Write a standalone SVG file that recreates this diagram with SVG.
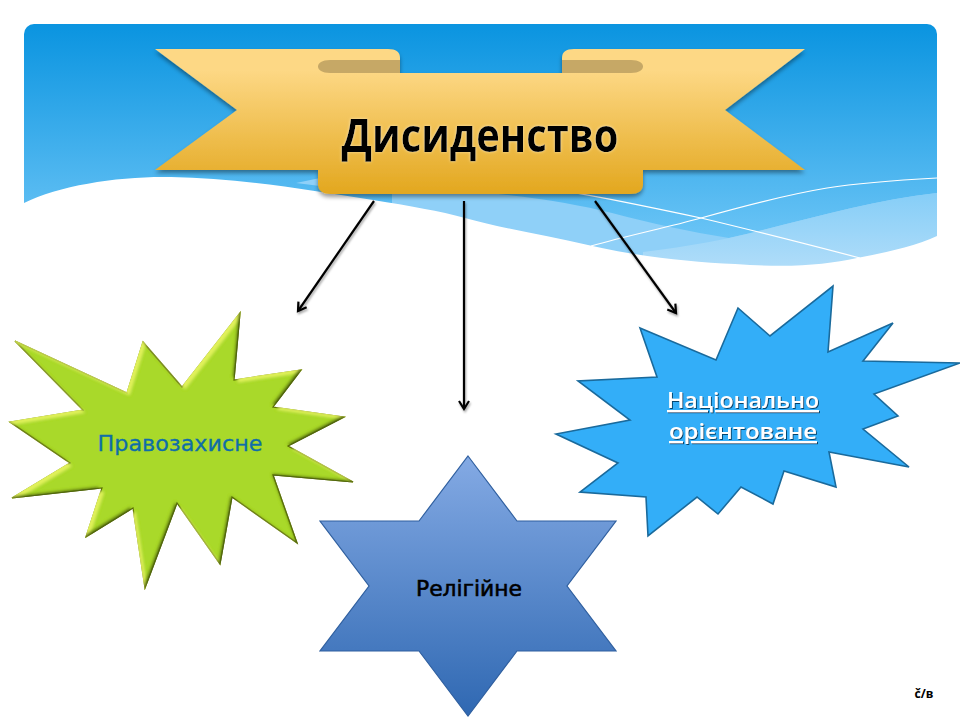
<svg xmlns="http://www.w3.org/2000/svg" width="960" height="720" viewBox="0 0 960 720">
<style>
.t{font-family:"Open Sans","Noto Sans","Liberation Sans",sans-serif;text-anchor:middle}
.d{font-family:"DejaVu Sans","Liberation Sans",sans-serif;text-anchor:middle}
.a{fill:none;stroke:#000;stroke-width:2.2;marker-end:url(#ah);filter:url(#ls)}
.w{fill:none;stroke:#fff;stroke-width:1.2}
</style>
<defs>
<linearGradient id="sky" gradientUnits="userSpaceOnUse" x1="0" y1="24" x2="0" y2="260"><stop offset="0" stop-color="#0a94e0"/><stop offset="1" stop-color="#74c9f8"/></linearGradient>
<linearGradient id="rib" gradientUnits="userSpaceOnUse" x1="0" y1="70" x2="0" y2="192"><stop offset="0" stop-color="#fdd885"/><stop offset="1" stop-color="#e3a820"/></linearGradient>
<linearGradient id="dav" x1="0" y1="0" x2="0" y2="1"><stop offset="0" stop-color="#84aae4"/><stop offset="1" stop-color="#2f68b2"/></linearGradient>
<linearGradient id="lt" gradientUnits="userSpaceOnUse" x1="0" y1="190" x2="0" y2="265"><stop offset="0" stop-color="#84cdf7"/><stop offset="1" stop-color="#aedcf9"/></linearGradient>
<filter id="ds" x="-5%" y="-10%" width="110%" height="125%"><feDropShadow dx="0" dy="3" stdDeviation="2" flood-color="#000" flood-opacity=".4"/></filter>
<filter id="ls" filterUnits="userSpaceOnUse" x="0" y="0" width="960" height="720"><feDropShadow dx="1" dy="2" stdDeviation="1.2" flood-color="#000" flood-opacity=".35"/></filter>
<filter id="bev" x="-5%" y="-5%" width="110%" height="110%">
<feGaussianBlur in="SourceAlpha" stdDeviation="1.6" result="b"/>
<feOffset in="b" dx="3" dy="3" result="o1"/><feComposite in="SourceAlpha" in2="o1" operator="out" result="e1"/>
<feFlood flood-color="#e2f25c"/><feComposite in2="e1" operator="in" result="hi"/>
<feOffset in="b" dx="-2.5" dy="-2.5" result="o2"/><feComposite in="SourceAlpha" in2="o2" operator="out" result="e2"/>
<feFlood flood-color="#50660c"/><feComposite in2="e2" operator="in" result="lo"/>
<feMerge><feMergeNode in="SourceGraphic"/><feMergeNode in="hi"/><feMergeNode in="lo"/></feMerge></filter>
<filter id="wg" x="-10%" y="-20%" width="120%" height="140%"><feGaussianBlur in="SourceAlpha" stdDeviation="1.5" result="b"/><feFlood flood-color="#fff" flood-opacity=".55"/><feComposite in2="b" operator="in" result="g"/><feMerge><feMergeNode in="g"/><feMergeNode in="SourceGraphic"/></feMerge></filter>
<filter id="ts" x="-10%" y="-20%" width="120%" height="140%"><feDropShadow dx="1" dy="1" stdDeviation=".7" flood-color="#063a60" flood-opacity=".9"/></filter>
<marker id="ah" markerWidth="13" markerHeight="13" refX="10" refY="6" orient="auto" markerUnits="userSpaceOnUse"><path d="M2 1L10 6L2 11" fill="none" stroke="#000" stroke-width="2.2"/></marker>
<clipPath id="bg"><rect x="24" y="24" width="913" height="300" rx="10"/></clipPath>
</defs>
<rect width="960" height="720" fill="#fff"/>
<g id="background" clip-path="url(#bg)">
<rect x="24" y="24" width="913" height="245" fill="url(#sky)"/>
<path d="M392 190C480 188 560 200 612 213C650 223 690 232 729 238C800 222 870 200 937 193V270H392Z" fill="#8fd0f8"/>
<path d="M643 252C675 248 700 244 729 238C800 222 870 200 937 193V270H643Z" fill="url(#lt)"/>
<path d="M296 183L320 178V186Z" fill="#8fd0f8"/>
<path d="M24 203C60 185 120 176 171 177C240 178 310 190 373 200C410 206 440 211 465 218C500 228 545 235 588 245C640 257 690 262 735 264C790 268 825 265 857 258C885 253 915 246 937 236V340H24Z" fill="#fff"/>
<path class="w" d="M500 182C560 188 640 205 701 218C760 232 810 245 860 258"/>
<path class="w" d="M591 246C630 235 665 228 701 218C740 207 785 195 827 188C865 182 900 180 937 178"/>
</g>
<g id="connectors">
<path class="a" d="M374 201L298 311"/>
<path class="a" d="M464 201V409"/>
<path class="a" d="M595 201L676 313"/>
</g>
<g id="ribbon">
<g filter="url(#ds)">
<path d="M330 73H400V58Q400 49 388 49H155L237 110L155 170H330Z" fill="url(#rib)"/>
<path d="M631 73H562V58Q562 49 574 49H805L725 110L805 170H631Z" fill="url(#rib)"/>
<path d="M318 73H643V184Q643 194 630 194H331Q318 194 318 184Z" fill="url(#rib)"/>
</g>
<path d="M400 60H330C314 60 314 73 330 73H400Z" fill="#c6a866"/>
<path d="M562 60H631C647 60 647 73 631 73H562Z" fill="#c6a866"/>
<text class="t" x="480" y="152" font-size="47" font-weight="700" textLength="277" lengthAdjust="spacingAndGlyphs" fill="#000" filter="url(#wg)">Дисиденство</text>
</g>
<g id="node-pravo">
<polygon points="15,341 127,393 143,342 182,387 240,313 234,380 301,370 273,407 344,417 288,446 353,482 273,475 297,543 232,497 220,564 177,503 145,588 133,508 86,537 102,488 12,498 70,463 10,422 83,410" fill="#a9d92c" stroke="#5c7010" stroke-width="1.2" filter="url(#bev)"/>
<text class="d" x="180" y="451" font-size="22" textLength="165" lengthAdjust="spacingAndGlyphs" fill="#0f6ea8" stroke="#0f6ea8" stroke-width=".3">Правозахисне</text>
</g>
<g id="node-relig">
<polygon points="468,456 517,521 616,521 567,586 616,651 517,651 468,716 419,651 320,651 369,586 320,521 419,521" fill="url(#dav)" stroke="#2f5f9f" stroke-width="1.2"/>
<text class="d" x="469" y="596" font-size="22" textLength="106" lengthAdjust="spacingAndGlyphs" fill="#000" stroke="#000" stroke-width=".6">Релігійне</text>
</g>
<g id="node-nation">
<polygon points="640,328 716,360 738,308 770,336 833,286 828,352 893,323 863,361 960,363 874,394 898,416 863,429 909,467 829,452 836,487 784,471 773,504 741,487 718,514 697,497 648,536 646,497 580,492 618,463 556,434 630,420 578,381 657,377" fill="#33aef8" stroke="#1a6a9c" stroke-width="1.6"/>
<text class="t" x="743" y="408" font-size="22" font-weight="600" text-decoration="underline" textLength="152" lengthAdjust="spacingAndGlyphs" fill="#fff" filter="url(#ts)">Національно</text>
<text class="t" x="743" y="439" font-size="22" font-weight="600" text-decoration="underline" textLength="148" lengthAdjust="spacingAndGlyphs" fill="#fff" filter="url(#ts)">орієнтоване</text>
</g>
<text class="t" x="924" y="698" font-size="12" font-weight="700" textLength="19" lengthAdjust="spacingAndGlyphs" fill="#000">č/в</text>
</svg>
